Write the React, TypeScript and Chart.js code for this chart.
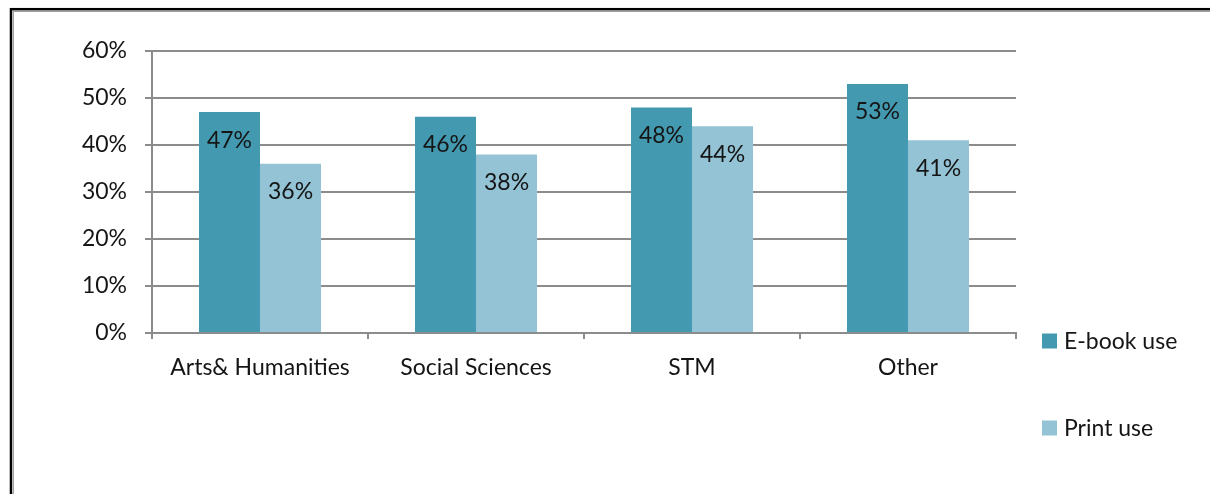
import React, { useEffect, useRef } from "react";
import { Chart, registerables } from "chart.js";

Chart.register(...registerables);

const categories = ["Arts& Humanities", "Social Sciences", "STM", "Other"];
const ebookUse = [47, 46, 48, 53];
const printUse = [36, 38, 44, 41];
const seriesNames = ["E-book use", "Print use"];
const yTicks = [0, 10, 20, 30, 40, 50, 60];

const FONT = "Lato, 'Open Sans', sans-serif";
const FS = 23;
const EBOOK_COLOR = "#4399B0";
const PRINT_COLOR = "#93C3D4";
const GRID = "#8c8c8c";
const TEXT = "#151515";

const framePlugin = {
  id: "frame",
  beforeDraw(chart: any) {
    const ctx = chart.ctx;
    ctx.save();
    ctx.fillStyle = "#ffffff";
    ctx.fillRect(0, 0, chart.width, chart.height);
    ctx.strokeStyle = "#000000";
    ctx.lineWidth = 2.5;
    ctx.strokeRect(11, 9.2, chart.width + 50, chart.height + 50);
    ctx.strokeStyle = "#a0a0a0";
    ctx.lineWidth = 1;
    ctx.strokeRect(13.5, 11.5, chart.width + 50, chart.height + 50);
    ctx.restore();
  },
};

const labelPlugin = {
  id: "valueLabels",
  afterDatasetsDraw(chart: any) {
    const ctx = chart.ctx;
    ctx.save();
    ctx.font = `${FS}px ${FONT}`;
    ctx.fillStyle = TEXT;
    ctx.textAlign = "center";
    ctx.textBaseline = "middle";
    chart.data.datasets.forEach((ds: any, di: number) => {
      const meta = chart.getDatasetMeta(di);
      meta.data.forEach((bar: any, i: number) => {
        ctx.fillText(ds.data[i] + "%", bar.x, bar.y + 28);
      });
    });
    ctx.restore();
  },
};

const legendPlugin = {
  id: "customLegend",
  afterDraw(chart: any) {
    const ctx = chart.ctx;
    ctx.save();
    ctx.font = `${FS}px ${FONT}`;
    ctx.textBaseline = "middle";
    ctx.textAlign = "left";
    const ys = [341, 428];
    chart.data.datasets.forEach((ds: any, di: number) => {
      const y = ys[di];
      ctx.fillStyle = ds.backgroundColor;
      ctx.fillRect(1042, y - 7.5, 15, 15);
      ctx.fillStyle = TEXT;
      ctx.fillText(ds.label, 1064, y + 1);
    });
    ctx.restore();
  },
};

export default function App() {
  const ref = useRef<HTMLCanvasElement>(null);
  useEffect(() => {
    document.body.style.margin = "0";
    const chart = new Chart(ref.current!, {
      type: "bar",
      data: {
        labels: categories,
        datasets: [
          { label: seriesNames[0], data: ebookUse, backgroundColor: EBOOK_COLOR },
          { label: seriesNames[1], data: printUse, backgroundColor: PRINT_COLOR },
        ],
      },
      options: {
        animation: false,
        responsive: false,
        devicePixelRatio: 1,
        layout: { padding: { left: 0, top: 51, right: 194, bottom: 0 } },
        datasets: { bar: { categoryPercentage: 0.565, barPercentage: 1 } } as any,
        plugins: { legend: { display: false }, tooltip: { enabled: false } },
        scales: {
          x: {
            afterFit(scale: any) {
              scale.height = 494 - 333;
            },
            grid: {
              display: true,
              offset: true,
              drawOnChartArea: false,
              drawTicks: true,
              tickLength: 6,
              color: GRID,
              lineWidth: 2,
            },
            border: { display: true, color: GRID, width: 2 },
            ticks: { color: TEXT, font: { family: FONT, size: FS }, padding: 15 },
          },
          y: {
            min: 0,
            max: 60,
            afterFit(scale: any) {
              scale.width = 152;
            },
            afterBuildTicks(scale: any) {
              scale.ticks = yTicks.map((v) => ({ value: v }));
            },
            grid: { color: GRID, lineWidth: 2, tickLength: 7, drawTicks: true },
            border: { display: true, color: GRID, width: 2 },
            ticks: {
              color: TEXT,
              font: { family: FONT, size: FS },
              padding: 18,
              callback: (v: any) => v + "%",
            },
          },
        },
      },
      plugins: [framePlugin, labelPlugin, legendPlugin],
    });
    return () => chart.destroy();
  }, []);
  return (
    <div style={{ width: 1210, height: 494 }}>
      <canvas ref={ref} width={1210} height={494} style={{ display: "block" }} />
    </div>
  );
}
